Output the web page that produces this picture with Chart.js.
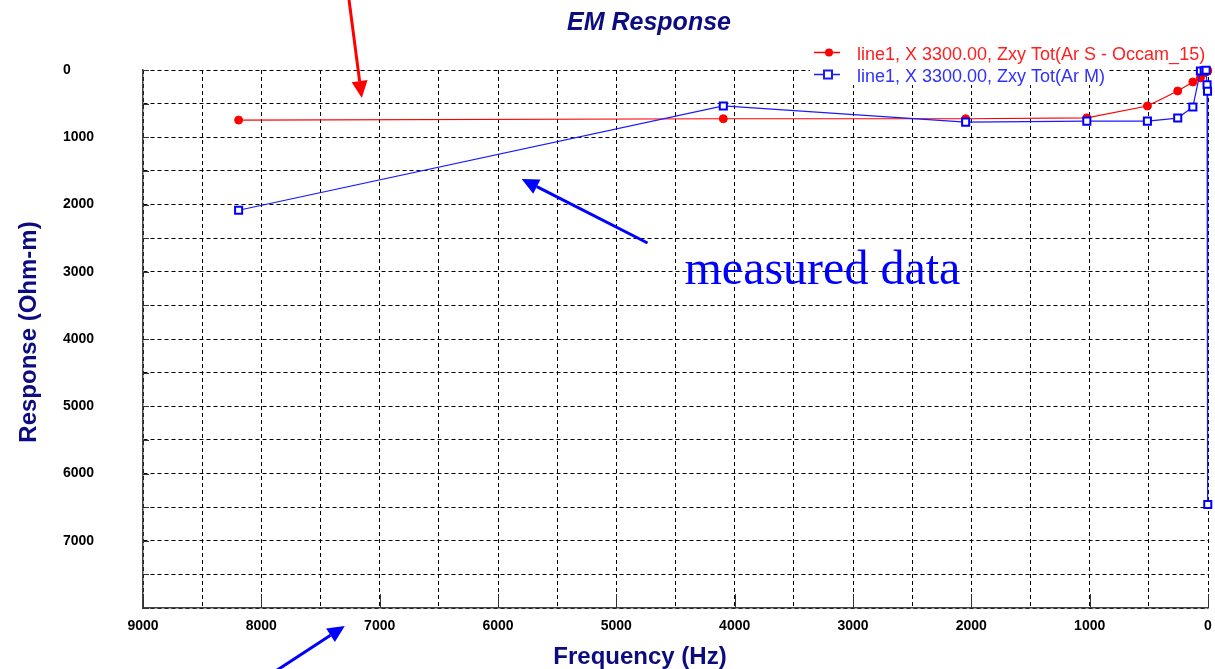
<!DOCTYPE html>
<html>
<head>
<meta charset="utf-8">
<title>EM Response</title>
<script src="https://cdn.jsdelivr.net/npm/chart.js@4.4.1/dist/chart.umd.min.js"></script>
<style>
  html, body { margin: 0; padding: 0; background: #fff; }
  #wrap { width: 1215px; height: 669px; }
</style>
</head>
<body>
<div id="wrap"><canvas id="em-chart" width="1215" height="669"></canvas></div>
<script>
// Sounding frequencies (Hz)
const frequencies = [8192, 4096, 2048, 1024, 512, 256, 128, 64, 32, 16, 8, 4, 2];
// Occam_15 model response (Ohm-m)
const occamResponse = [745, 725, 725, 712, 535, 312, 178, 118, 40, 25, 20, 15, 10];
// Measured response (Ohm-m)
const measuredResponse = [2085, 535, 775, 760, 760, 715, 550, 15, 10, 5, 220, 315, 6460];

const occamLabel = 'line1, X 3300.00, Zxy Tot(Ar S - Occam_15)';
const measuredLabel = 'line1, X 3300.00, Zxy Tot(Ar M)';

const xTickLabels = ['9000', '8000', '7000', '6000', '5000', '4000', '3000', '2000', '1000', '0'];
const yTickLabels = ['0', '1000', '2000', '3000', '4000', '5000', '6000', '7000'];

const NAVY = '#0c0c80';
const FONT = "'Liberation Sans', Arial, sans-serif";

// callouts, placed in axis units (frequency, response)
const callouts = [
  { from: [7261, -1071], to: [7151, 416], color: '#ff0000' },
  { from: [4736, 2572], to: [5800, 1621], color: '#0000ff' },
  { from: [7995, 9071], to: [7295, 8268], color: '#0000ff' }
];
const calloutText = { text: 'measured data', at: [4424, 3182], color: '#0000ff' };

function toPoints(values) {
  return frequencies.map((f, i) => ({ x: f, y: values[i] }));
}

function drawArrow(ctx, x1, y1, x2, y2, color) {
  const ang = Math.atan2(y2 - y1, x2 - x1);
  const head = 17, half = 8;
  const bx = x2 - head * Math.cos(ang), by = y2 - head * Math.sin(ang);
  ctx.strokeStyle = color;
  ctx.lineWidth = 3;
  ctx.beginPath();
  ctx.moveTo(x1, y1);
  ctx.lineTo(bx, by);
  ctx.stroke();
  ctx.fillStyle = color;
  ctx.beginPath();
  ctx.moveTo(x2, y2);
  ctx.lineTo(bx + half * Math.sin(ang), by - half * Math.cos(ang));
  ctx.lineTo(bx - half * Math.sin(ang), by + half * Math.cos(ang));
  ctx.closePath();
  ctx.fill();
}

// titles, legend, axis ticks and callouts
const decorations = {
  id: 'emDecorations',
  afterDraw(chart) {
    const ctx = chart.ctx;
    const { left, bottom } = chart.chartArea;
    const xs = chart.scales.x, ys = chart.scales.y;

    ctx.save();

    // short solid ticks inside the axes
    ctx.strokeStyle = '#333';
    ctx.lineWidth = 1;
    ctx.setLineDash([]);
    for (let v = 0; v <= 8000; v += 500) {
      const y = Math.round(ys.getPixelForValue(v)) + 0.5;
      ctx.beginPath(); ctx.moveTo(left, y); ctx.lineTo(left + 6, y); ctx.stroke();
    }
    for (let v = 0; v <= 9000; v += 1000) {
      const x = Math.round(xs.getPixelForValue(v)) + 0.5;
      ctx.beginPath(); ctx.moveTo(x, bottom); ctx.lineTo(x, bottom - 14); ctx.stroke();
    }

    // chart title
    ctx.fillStyle = NAVY;
    ctx.textAlign = 'center';
    ctx.textBaseline = 'alphabetic';
    ctx.font = 'italic bold 25px ' + FONT;
    ctx.fillText('EM Response', 649, 30);

    // axis titles
    ctx.font = 'bold 24px ' + FONT;
    ctx.fillText('Frequency (Hz)', 640, 664);
    ctx.save();
    ctx.translate(36, 332);
    ctx.rotate(-Math.PI / 2);
    ctx.fillText('Response (Ohm-m)', 0, 0);
    ctx.restore();

    // legend
    ctx.font = '18px ' + FONT;
    ctx.textAlign = 'left';
    const rows = [52, 74];
    chart.data.datasets.forEach((ds, i) => {
      const y = rows[i];
      const w = ctx.measureText(ds.label).width;
      ctx.fillStyle = '#fff';
      ctx.fillRect(810, y - 10, 857 - 810 + w + 3, 21);
      ctx.strokeStyle = ds.borderColor;
      ctx.lineWidth = 1.5;
      ctx.beginPath(); ctx.moveTo(814, y + 0.5); ctx.lineTo(840, y + 0.5); ctx.stroke();
      if (ds.pointStyle === 'rect') {
        ctx.fillStyle = '#fff';
        ctx.lineWidth = 2;
        ctx.fillRect(824, y - 3.5, 8, 8);
        ctx.strokeRect(824, y - 3.5, 8, 8);
      } else {
        ctx.fillStyle = ds.pointBackgroundColor;
        ctx.beginPath(); ctx.arc(829, y + 0.5, 4, 0, Math.PI * 2); ctx.fill();
      }
      ctx.fillStyle = ds.legendTextColor;
      ctx.fillText(ds.label, 857, y + 8);
    });

    // callouts
    callouts.forEach(c => {
      drawArrow(ctx,
        xs.getPixelForValue(c.from[0]), ys.getPixelForValue(c.from[1]),
        xs.getPixelForValue(c.to[0]), ys.getPixelForValue(c.to[1]), c.color);
    });
    ctx.fillStyle = calloutText.color;
    ctx.font = "48px 'Liberation Serif', 'Times New Roman', serif";
    ctx.textAlign = 'left';
    ctx.fillText(calloutText.text,
      xs.getPixelForValue(calloutText.at[0]), ys.getPixelForValue(calloutText.at[1]));

    ctx.restore();
  }
};

const gridStyle = { color: '#000', lineWidth: 1, drawTicks: false };
const borderStyle = { display: true, color: '#444', width: 1.5, dash: [4, 3] };

new Chart(document.getElementById('em-chart'), {
  type: 'line',
  data: {
    datasets: [
      {
        label: occamLabel,
        data: toPoints(occamResponse),
        borderColor: '#ff0000',
        backgroundColor: '#ff0000',
        pointBackgroundColor: '#ff0000',
        pointBorderColor: '#ff0000',
        pointStyle: 'circle',
        pointRadius: 4,
        pointBorderWidth: 1,
        borderWidth: 1.2,
        legendTextColor: '#ff2020',
        tension: 0,
        clip: false,
        order: 1
      },
      {
        label: measuredLabel,
        data: toPoints(measuredResponse),
        borderColor: '#1a1aff',
        backgroundColor: '#ffffff',
        pointBackgroundColor: '#ffffff',
        pointBorderColor: '#0000ff',
        pointStyle: 'rect',
        pointRadius: 5,
        pointBorderWidth: 2,
        borderWidth: 1.2,
        legendTextColor: '#3030ff',
        tension: 0,
        clip: false,
        order: 0
      }
    ]
  },
  options: {
    responsive: false,
    animation: false,
    events: [],
    layout: { padding: { top: 70, left: 63, right: 6, bottom: 0 } },
    plugins: {
      legend: { display: false },
      title: { display: false },
      tooltip: { enabled: false }
    },
    scales: {
      x: {
        type: 'linear',
        reverse: true,
        min: 0,
        max: 9000,
        grid: gridStyle,
        border: borderStyle,
        ticks: {
          stepSize: 500,
          autoSkip: false,
          maxRotation: 0,
          padding: 10,
          color: '#000',
          font: { family: FONT, size: 14, weight: 'bold' },
          callback: v => xTickLabels.includes(String(v)) ? String(v) : ''
        },
        afterFit: scale => {
          scale.height = 61;
          // edge labels must not push the plot area inwards
          scale.paddingLeft = 0;
          scale.paddingRight = 0;
        }
      },
      y: {
        type: 'linear',
        reverse: true,
        min: 0,
        max: 8000,
        grid: gridStyle,
        border: borderStyle,
        ticks: {
          stepSize: 500,
          autoSkip: false,
          crossAlign: 'far',
          color: '#000',
          font: { family: FONT, size: 14, weight: 'bold' },
          callback: v => yTickLabels.includes(String(v)) ? String(v) : ''
        },
        afterFit: scale => { scale.width = 80; }
      }
    }
  },
  plugins: [decorations]
});
</script>
</body>
</html>
